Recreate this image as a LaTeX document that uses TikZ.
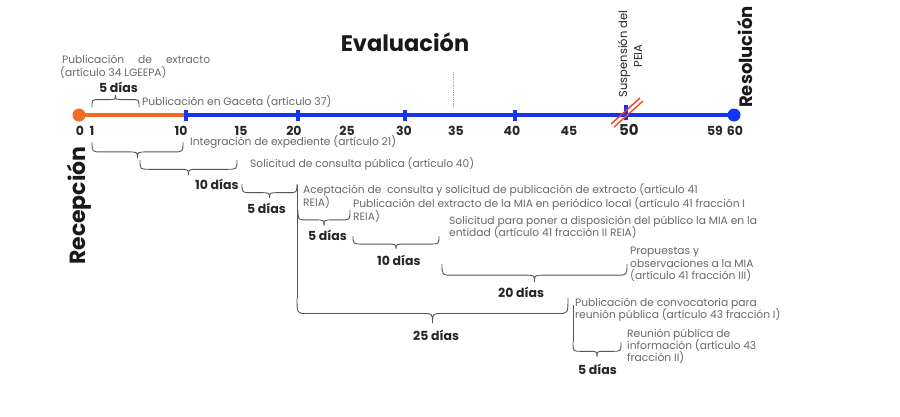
\documentclass[tikz,border=0pt]{standalone}
\usepackage{fontspec}
\setmainfont{Poppins}
\definecolor{tlorange}{HTML}{F26B21}
\definecolor{tlblue}{HTML}{1533F5}
\definecolor{txtgray}{HTML}{686868}
\definecolor{brgray}{HTML}{555555}
\definecolor{slashred}{HTML}{E8402A}
\newcommand\tlbrace[4]{%
  \pgfmathsetmacro\bxm{(#1+#2)/2}%
  \pgfmathsetmacro\bym{#3+0.62*(#4)}%
  \pgfmathsetmacro\byt{#3+(#4)}%
  \pgfmathsetmacro\bc{min(10,(#2-#1)/6)}%
  \draw[bracestyle] (#1,#3) .. controls (#1,\bym) .. (#1+\bc,\bym) -- (\bxm-\bc,\bym)
    .. controls (\bxm,\bym) .. (\bxm,\byt) .. controls (\bxm,\bym) .. (\bxm+\bc,\bym)
    -- (#2-\bc,\bym) .. controls (#2,\bym) .. (#2,#3);%
}
\begin{document}
\begin{tikzpicture}[x=1pt,y=-1pt,
  graytxt/.style={font=\fontsize{10.7}{12}\selectfont, text=txtgray, inner sep=0pt, anchor=base west},
  daylbl/.style={font=\fontsize{12.5}{14}\selectfont\bfseries, text=black!85, inner sep=0pt, anchor=base west},
  ticklbl/.style={font=\fontsize{12.5}{14}\selectfont\bfseries, text=black!85, inner sep=0pt, anchor=base},
  bracestyle/.style={draw=brgray, line width=0.9pt},
  tickmark/.style={rectangle, fill=tlblue, minimum width=4pt, minimum height=11pt, inner sep=0pt},
  enddot/.style={circle, minimum size=13pt, inner sep=0pt},
  bigtitle/.style={font=\fontsize{22.5}{26}\selectfont\bfseries, text=black!90, inner sep=0pt}
]
\fill[white] (0,0) rectangle (900,416);
\useasboundingbox (0,0) rectangle (900,416);

% timeline
\coordinate (p0) at (79,115);
\coordinate (p10) at (186,115);
\coordinate (p20) at (298,115);
\coordinate (p30) at (405,115);
\coordinate (p40) at (515,115);
\coordinate (p50) at (626,112);
\coordinate (p60) at (734,115);
\draw[tlorange, line width=4.5pt] (p0) -- (p10);
\draw[tlblue, line width=4.5pt] (p10) -- (p60);
\node[enddot, fill=tlorange] (d0) at (p0) {};
\node[enddot, fill=tlblue] (d60) at (p60) {};
\node[tickmark] (t10) at (p10) {};
\node[tickmark] (t20) at (p20) {};
\node[tickmark] (t30) at (p30) {};
\node[tickmark] (t40) at (p40) {};
\node[tickmark, minimum height=15pt] (t50) at (p50) {};

% suspension slash
\coordinate (s1a) at (611,124); \coordinate (s1b) at (640,98);
\coordinate (s2a) at (614,127); \coordinate (s2b) at (643,101);
\draw[slashred, line width=1.4pt] (s1a) -- (s1b);
\draw[slashred!80!orange, line width=1.4pt] (s2a) -- (s2b);

% dotted mark at 35
\coordinate (dm1) at (453,72); \coordinate (dm2) at (453,108);
\draw[black!35, densely dotted, line width=0.8pt] (dm1) -- (dm2);

% tick labels
\node[ticklbl] (l0) at (80,135) {0};
\node[ticklbl] (l1) at (92,135) {1};
\node[ticklbl] (l10) at (181,135) {10};
\node[ticklbl] (l15) at (241,135) {15};
\node[ticklbl] (l20) at (294,135) {20};
\node[ticklbl] (l25) at (347,135) {25};
\node[ticklbl] (l30) at (404,135) {30};
\node[ticklbl] (l35) at (456,135) {35};
\node[ticklbl] (l40) at (512,135) {40};
\node[ticklbl] (l45) at (569,135) {45};
\node[ticklbl, font=\fontsize{15}{17}\selectfont\bfseries] (l50) at (629,135) {50};
\node[ticklbl] (l59) at (715,135) {59};
\node[ticklbl] (l60) at (735,135) {60};

% titles
\node[bigtitle, anchor=base] (eval) at (405,51) {Evaluación};
\node[bigtitle, font=\fontsize{18}{20}\selectfont\bfseries, rotate=90, anchor=base west] (resol) at (752,108) {Resolución};
\node[bigtitle, font=\fontsize{22}{24}\selectfont\bfseries, rotate=90, anchor=base west] (recep) at (85,265) {Recepción};
\node[font=\fontsize{11.5}{12}\selectfont, text=black!85, inner sep=0pt, rotate=90, anchor=base] (susp1) at (627,54) {Suspensión del};
\node[font=\fontsize{11.5}{12}\selectfont, text=black!85, inner sep=0pt, rotate=90, anchor=base] (susp2) at (642,56) {PEIA};

% top annotations
\node[graytxt] (pe1) at (62,63) {\makebox[148pt][s]{Publicación de extracto}};
\node[graytxt] (pe2) at (60,76) {(artículo 34 LGEEPA)};
\node[daylbl] (dA) at (99,92) {5 días};
\tlbrace{92}{139}{107}{-12}
\node[graytxt] (gac) at (142,105) {Publicación en Gaceta (artículo 37)};

% below timeline
\tlbrace{92}{183}{142}{16}
\node[graytxt] (ie) at (190,145) {Integración de expediente (artículo 21)};
\tlbrace{140}{237}{160}{15}
\node[graytxt] (sc) at (250,167) {Solicitud de consulta pública (artículo 40)};
\node[daylbl] (dB) at (195,189) {10 días};
\tlbrace{242}{297}{184}{14}
\node[daylbl] (dC) at (247,213) {5 días};

\coordinate (v1a) at (297,185); \coordinate (v1b) at (297,298);
\draw[bracestyle] (v1a) -- (v1b);
\node[graytxt] (ac1) at (303,193) {Aceptación de\ \ consulta y solicitud de publicación de extracto (artículo 41};
\node[graytxt] (ac2) at (303,206) {REIA)};
\tlbrace{298}{350}{210}{16}
\node[graytxt] (pm1) at (353,207) {Publicación del extracto de la MIA en periódico local (artículo 41 fracción I};
\node[graytxt] (pm2) at (353,220) {REIA)};
\node[daylbl] (dD) at (308,240) {5 días};

\tlbrace{353}{439}{236}{13}
\node[daylbl] (dE) at (377,265) {10 días};
\node[graytxt] (sp1) at (449,224) {Solicitud para poner a disposición del público la MIA en la};
\node[graytxt] (sp2) at (449,236) {entidad (artículo 41 fracción II REIA)};

\tlbrace{442}{627}{264}{18}
\node[daylbl] (dF) at (498,297) {20 días};
\node[graytxt] (po1) at (630,254) {Propuestas y};
\node[graytxt] (po2) at (630,267) {observaciones a la MIA};
\node[graytxt] (po3) at (630,279) {(artículo 41 fracción III)};

\tlbrace{297}{568}{298}{25}
\node[daylbl] (dG) at (413,340) {25 días};
\node[graytxt] (pc1) at (575,306) {Publicación de convocatoria para};
\node[graytxt] (pc2) at (575,318) {reunión pública (artículo 43 fracción I)};

\coordinate (v2a) at (573,305); \coordinate (v2b) at (573,342);
\draw[bracestyle] (v2a) -- (v2b);
\tlbrace{573}{621}{342}{15}
\node[daylbl] (dH) at (578,374) {5 días};
\node[graytxt] (rp1) at (627,337) {Reunión pública de};
\node[graytxt] (rp2) at (627,349) {información (artículo 43};
\node[graytxt] (rp3) at (627,361) {fracción II)};
\end{tikzpicture}
\end{document}
